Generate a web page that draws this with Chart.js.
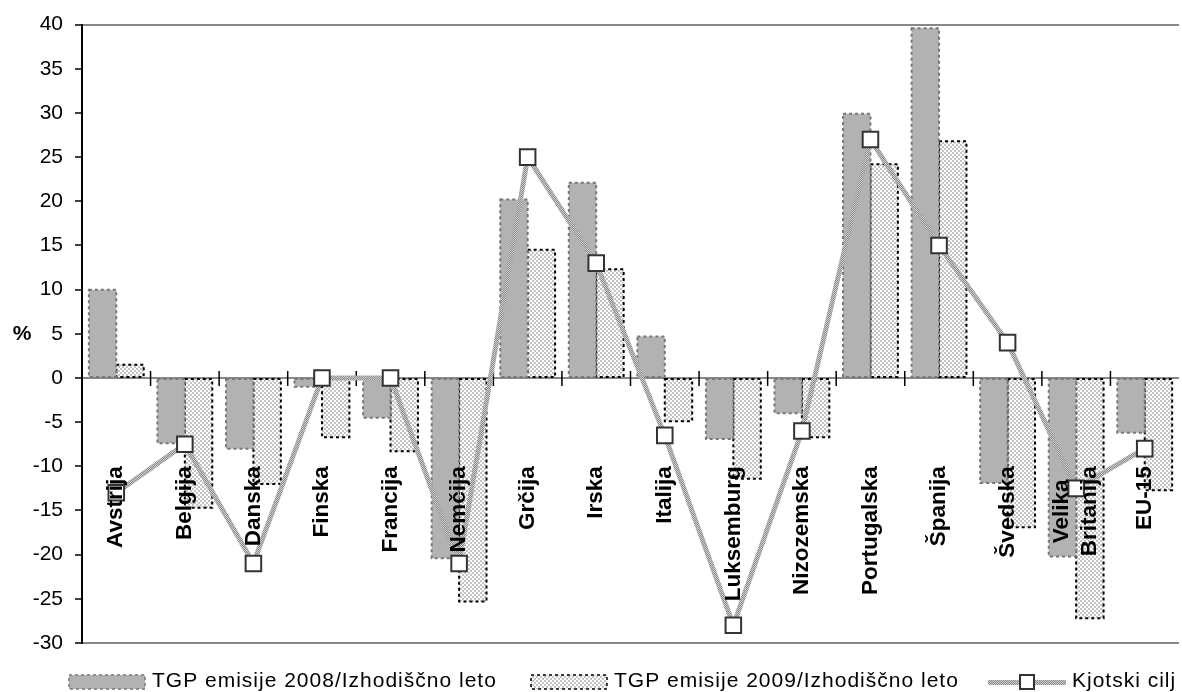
<!DOCTYPE html>
<html>
<head>
<meta charset="utf-8">
<script src="https://cdn.jsdelivr.net/npm/chart.js@4/dist/chart.umd.min.js"></script>
<style>
html, body { margin: 0; padding: 0; background: #fff; overflow: hidden; }
</style>
</head>
<body>
<canvas id="myChart" width="1192" height="692"></canvas>
<script>
// data (% change vs. base year)
var categories = ['Avstrija', 'Belgija', 'Danska', 'Finska', 'Francija', 'Nemčija', 'Grčija', 'Irska',
    'Italija', 'Luksemburg', 'Nizozemska', 'Portugalska', 'Španija', 'Švedska', ['Velika', 'Britanija'], 'EU-15'];
var emisije2008 = [10.0, -7.4, -8.0, -1.0, -4.5, -20.4, 20.2, 22.1, 4.7, -6.9, -4.0, 29.9, 39.6, -11.9, -20.2, -6.2];
var emisije2009 = [1.5, -14.7, -12.0, -6.7, -8.3, -25.3, 14.5, 12.3, -4.9, -11.4, -6.7, 24.2, 26.8, -16.9, -27.2, -12.7];
var kjotskiCilj = [-13, -7.5, -21, 0, 0, -21, 25, 13, -6.5, -28, -6, 27, 15, 4, -12.5, -8];
var seriesNames = ['TGP emisije 2008/Izhodiščno leto', 'TGP emisije 2009/Izhodiščno leto', 'Kjotski cilj'];
var yMin = -30, yMax = 40, yStep = 5;

var FONT = '"Liberation Sans", Arial, sans-serif';
Chart.defaults.font.family = FONT;

var canvas = document.getElementById('myChart');
var ctx = canvas.getContext('2d');

function checker(c1, c2, cell) {
    var p = document.createElement('canvas');
    p.width = p.height = cell * 2;
    var g = p.getContext('2d');
    g.fillStyle = c1;
    g.fillRect(0, 0, cell * 2, cell * 2);
    g.fillStyle = c2;
    g.fillRect(0, 0, cell, cell);
    g.fillRect(cell, cell, cell, cell);
    return ctx.createPattern(p, 'repeat');
}

var solidGrey = '#b2b2b2';
var checkFill = checker('#ffffff', '#c4c4c4', 2);
var linePattern = checker('#8a8a8a', '#cfcfcf', 1);

// legend swatches
function swatch(draw) {
    var s = document.createElement('canvas');
    s.width = 78; s.height = 16;
    draw(s.getContext('2d'));
    return s;
}
var swatches = [
    swatch(function (g) {
        g.fillStyle = solidGrey; g.fillRect(1, 1, 76, 14);
        g.setLineDash([3, 3]); g.strokeStyle = '#777'; g.lineWidth = 1.5; g.strokeRect(1, 1, 76, 14);
    }),
    swatch(function (g) {
        g.fillStyle = checker('#ffffff', '#c4c4c4', 2); g.fillRect(1, 1, 76, 14);
        g.setLineDash([3, 3]); g.strokeStyle = '#000'; g.lineWidth = 1.5; g.strokeRect(1, 1, 76, 14);
    }),
    swatch(function (g) {
        g.fillStyle = checker('#8a8a8a', '#cfcfcf', 1); g.fillRect(0, 6, 78, 5);
        g.fillStyle = '#fff'; g.fillRect(32, 1, 14, 14);
        g.strokeStyle = '#333'; g.lineWidth = 2; g.strokeRect(32, 1, 14, 14);
    })
];
var legendStarts = [68, 530, 988];

var dashBorders = {
    id: 'dashBorders',
    afterDatasetDraw: function (chart, args) {
        var ds = chart.data.datasets[args.index];
        if (!ds.dashColor) return;
        var c = chart.ctx;
        c.save();
        c.setLineDash([3, 3]);
        c.strokeStyle = ds.dashColor;
        c.lineWidth = 2;
        args.meta.data.forEach(function (bar) {
            var top = Math.min(bar.y, bar.base), bottom = Math.max(bar.y, bar.base);
            c.strokeRect(bar.x - bar.width / 2, top, bar.width, bottom - top);
        });
        c.restore();
    }
};

var axisExtras = {
    id: 'axisExtras',
    beforeDatasetsDraw: function (chart) {
        var c = chart.ctx, xs = chart.scales.x, ys = chart.scales.y;
        var y0 = ys.getPixelForValue(0);
        c.save();
        c.strokeStyle = '#000';
        c.lineWidth = 1.5;
        for (var i = 1; i < categories.length; i++) {
            var x = (xs.getPixelForValue(i - 1) + xs.getPixelForValue(i)) / 2;
            c.beginPath(); c.moveTo(x, y0 - 7); c.lineTo(x, y0 + 8); c.stroke();
        }
        c.restore();
    },
    afterDatasetsDraw: function (chart) {
        var c = chart.ctx, xs = chart.scales.x, ys = chart.scales.y;
        var yTop = ys.getPixelForValue(-10);
        c.save();
        c.fillStyle = '#000';
        c.font = 'bold 22.5px ' + FONT;
        c.textBaseline = 'middle';
        c.textAlign = 'center';
        categories.forEach(function (lab, i) {
            var lines = [].concat(lab);
            var w = Math.max.apply(null, lines.map(function (l) { return c.measureText(l).width; }));
            c.save();
            c.translate(xs.getPixelForValue(i), yTop);
            c.rotate(-Math.PI / 2);
            lines.forEach(function (l, k) {
                c.fillText(l, -w / 2, (k - (lines.length - 1) / 2) * 28);
            });
            c.restore();
        });
        // y axis title, upright
        c.font = 'bold 21px ' + FONT;
        c.fillText('%', 22, (chart.chartArea.top + chart.chartArea.bottom) / 2);
        c.restore();
    },
    afterDraw: function (chart) {
        var c = chart.ctx;
        c.save();
        c.font = '21px ' + FONT;
        c.letterSpacing = '1px';
        c.textBaseline = 'middle';
        c.textAlign = 'left';
        c.fillStyle = '#000';
        var y = 681;
        chart.data.datasets.forEach(function (ds, i) {
            var x = legendStarts[i];
            c.drawImage(swatches[i], x, y - 7);
            c.fillText(ds.label, x + 84, y);
        });
        c.restore();
    }
};

var myChart = new Chart(ctx, {
    type: 'bar',
    data: {
        labels: categories,
        datasets: [{
            label: seriesNames[0],
            data: emisije2008,
            backgroundColor: solidGrey,
            dashColor: '#777',
            borderWidth: 0,
            categoryPercentage: 0.8,
            barPercentage: 1.0,
            order: 1
        }, {
            label: seriesNames[1],
            data: emisije2009,
            backgroundColor: checkFill,
            dashColor: '#000',
            borderWidth: 0,
            categoryPercentage: 0.8,
            barPercentage: 1.0,
            order: 1
        }, {
            type: 'line',
            label: seriesNames[2],
            data: kjotskiCilj,
            borderColor: linePattern,
            borderWidth: 5,
            tension: 0,
            fill: false,
            pointStyle: 'rect',
            pointRadius: 11,
            pointBackgroundColor: '#fff',
            pointBorderColor: '#333',
            pointBorderWidth: 2,
            order: 0
        }]
    },
    options: {
        responsive: false,
        devicePixelRatio: 1,
        animation: false,
        layout: { padding: { top: 22, right: 3, bottom: 49, left: 0 } },
        plugins: { legend: { display: false }, tooltip: { enabled: false } },
        scales: {
            x: { display: false, offset: true },
            y: {
                min: yMin,
                max: yMax,
                afterFit: function (s) { s.width = 82; },
                ticks: { stepSize: yStep, color: '#000', font: { size: 21 }, padding: 12 },
                grid: {
                    color: function (c) {
                        var v = c.tick && c.tick.value;
                        return (v === 0 || v === yMax || v === yMin) ? '#888' : 'rgba(0,0,0,0)';
                    },
                    lineWidth: 2,
                    tickLength: 7,
                    tickColor: '#000',
                    tickWidth: 1.5
                },
                border: { color: '#000', width: 2 }
            }
        }
    },
    plugins: [dashBorders, axisExtras]
});
</script>
</body>
</html>
